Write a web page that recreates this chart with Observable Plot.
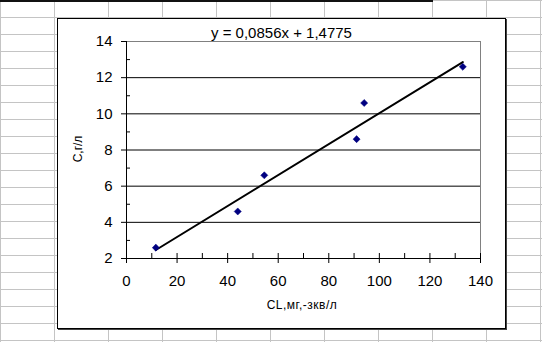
<!DOCTYPE html>
<html><head><meta charset="utf-8">
<script src="https://cdn.jsdelivr.net/npm/d3@7"></script>
<script src="https://cdn.jsdelivr.net/npm/@observablehq/plot@0.6"></script>
<style>
html,body{margin:0;padding:0;}
body{width:542px;height:342px;overflow:hidden;position:relative;background-color:#fff;
 background-image:linear-gradient(to right,#c4c4c4 1px,transparent 1px),linear-gradient(to bottom,#c4c4c4 1px,transparent 1px);
 background-size:54px 17px;font-family:"Liberation Sans",Arial,sans-serif;color:#000;}
#topline{position:absolute;left:0;top:0;width:433px;height:2px;background:#111;}
#box{position:absolute;left:57px;top:18px;width:447px;height:309px;border:1px solid #000;background:#fff;box-shadow:1px 1px 0 #444;}
#title{position:absolute;left:0;top:5.7px;width:100%;text-align:center;font-size:15px;line-height:15px;white-space:pre;}
#chart{position:absolute;left:0;top:0;}
#ylab{position:absolute;left:47.5px;top:143px;width:60px;height:12px;line-height:12px;font-size:12px;text-align:center;transform:rotate(-90deg);}
#xlab{position:absolute;left:242px;top:299px;width:120px;height:12px;line-height:12px;font-size:12px;text-align:center;letter-spacing:0.5px;}
</style></head>
<body>
<div id="topline"></div>
<div id="box"><div id="title"></div></div>
<div id="chart"></div>
<div id="ylab"></div>
<div id="xlab"></div>
<script>
// data
const clValues = [11.6, 44, 54.5, 91, 94, 133];
const cValues = [2.6, 4.6, 6.6, 8.6, 10.6, 12.6];
const trendCoef = [0.0856, 1.4775]; // slope, intercept
const xTicks = [0, 20, 40, 60, 80, 100, 120, 140];
const xMinor = [10, 30, 50, 70, 90, 110, 130];
const yTicks = [2, 4, 6, 8, 10, 12, 14];
const yMinor = [3, 5, 7, 9, 11, 13];
const yGrid = [4, 6, 8, 10, 12];
const xLabel = "CL,мг,-зкв/л";
const yLabel = "C,г/л";

const fmt = v => String(v).replace(".", ",");
document.getElementById("title").textContent = `y = ${fmt(trendCoef[0])}x + ${fmt(trendCoef[1])}`;
document.getElementById("xlab").textContent = xLabel;
document.getElementById("ylab").textContent = yLabel;

const points = clValues.map((x, i) => ({x, y: cValues[i]}));
const xmin = d3.min(clValues), xmax = d3.max(clValues);
const trend = [xmin, xmax].map(x => ({x, y: trendCoef[0] * x + trendCoef[1]}));

const xDom = [xTicks[0], xTicks[xTicks.length - 1]];
const yDom = [yTicks[0], yTicks[yTicks.length - 1]];

const chart = Plot.plot({
  width: 542, height: 342,
  marginLeft: 126, marginRight: 62, marginTop: 41, marginBottom: 84,
  x: {domain: xDom, label: null},
  y: {domain: yDom, label: null},
  style: {background: "transparent", fontFamily: "'Liberation Sans', Arial, sans-serif", fontSize: "15px", color: "#000"},
  marks: [
    Plot.ruleY(yGrid, {stroke: "#000", strokeWidth: 1}),
    Plot.ruleY([yDom[1]], {stroke: "#808080", strokeWidth: 1}),
    Plot.ruleX([xDom[1]], {stroke: "#808080", strokeWidth: 1}),
    Plot.ruleX([xDom[0]], {stroke: "#000", strokeWidth: 1}),
    Plot.ruleY([yDom[0]], {stroke: "#000", strokeWidth: 1}),
    Plot.axisY(yTicks, {tickSize: 5, tickPadding: 9, fontSize: 15, label: null}),
    Plot.axisY(yMinor, {tickSize: -4, tickFormat: () => "", label: null}),
    Plot.axisX(xTicks, {tickSize: 5, tickPadding: 12, fontSize: 15, label: null}),
    Plot.axisX(xTicks, {tickSize: -5, tickFormat: () => "", label: null}),
    Plot.axisX(xMinor, {tickSize: -5, tickFormat: () => "", label: null}),
    Plot.line(trend, {x: "x", y: "y", stroke: "#000", strokeWidth: 2}),
    Plot.dot(points, {x: "x", y: "y", symbol: "diamond2", r: 3.2, fill: "#000080", stroke: "#000080", strokeWidth: 0.5})
  ]
});
document.getElementById("chart").appendChild(chart);
</script>
</body></html>
